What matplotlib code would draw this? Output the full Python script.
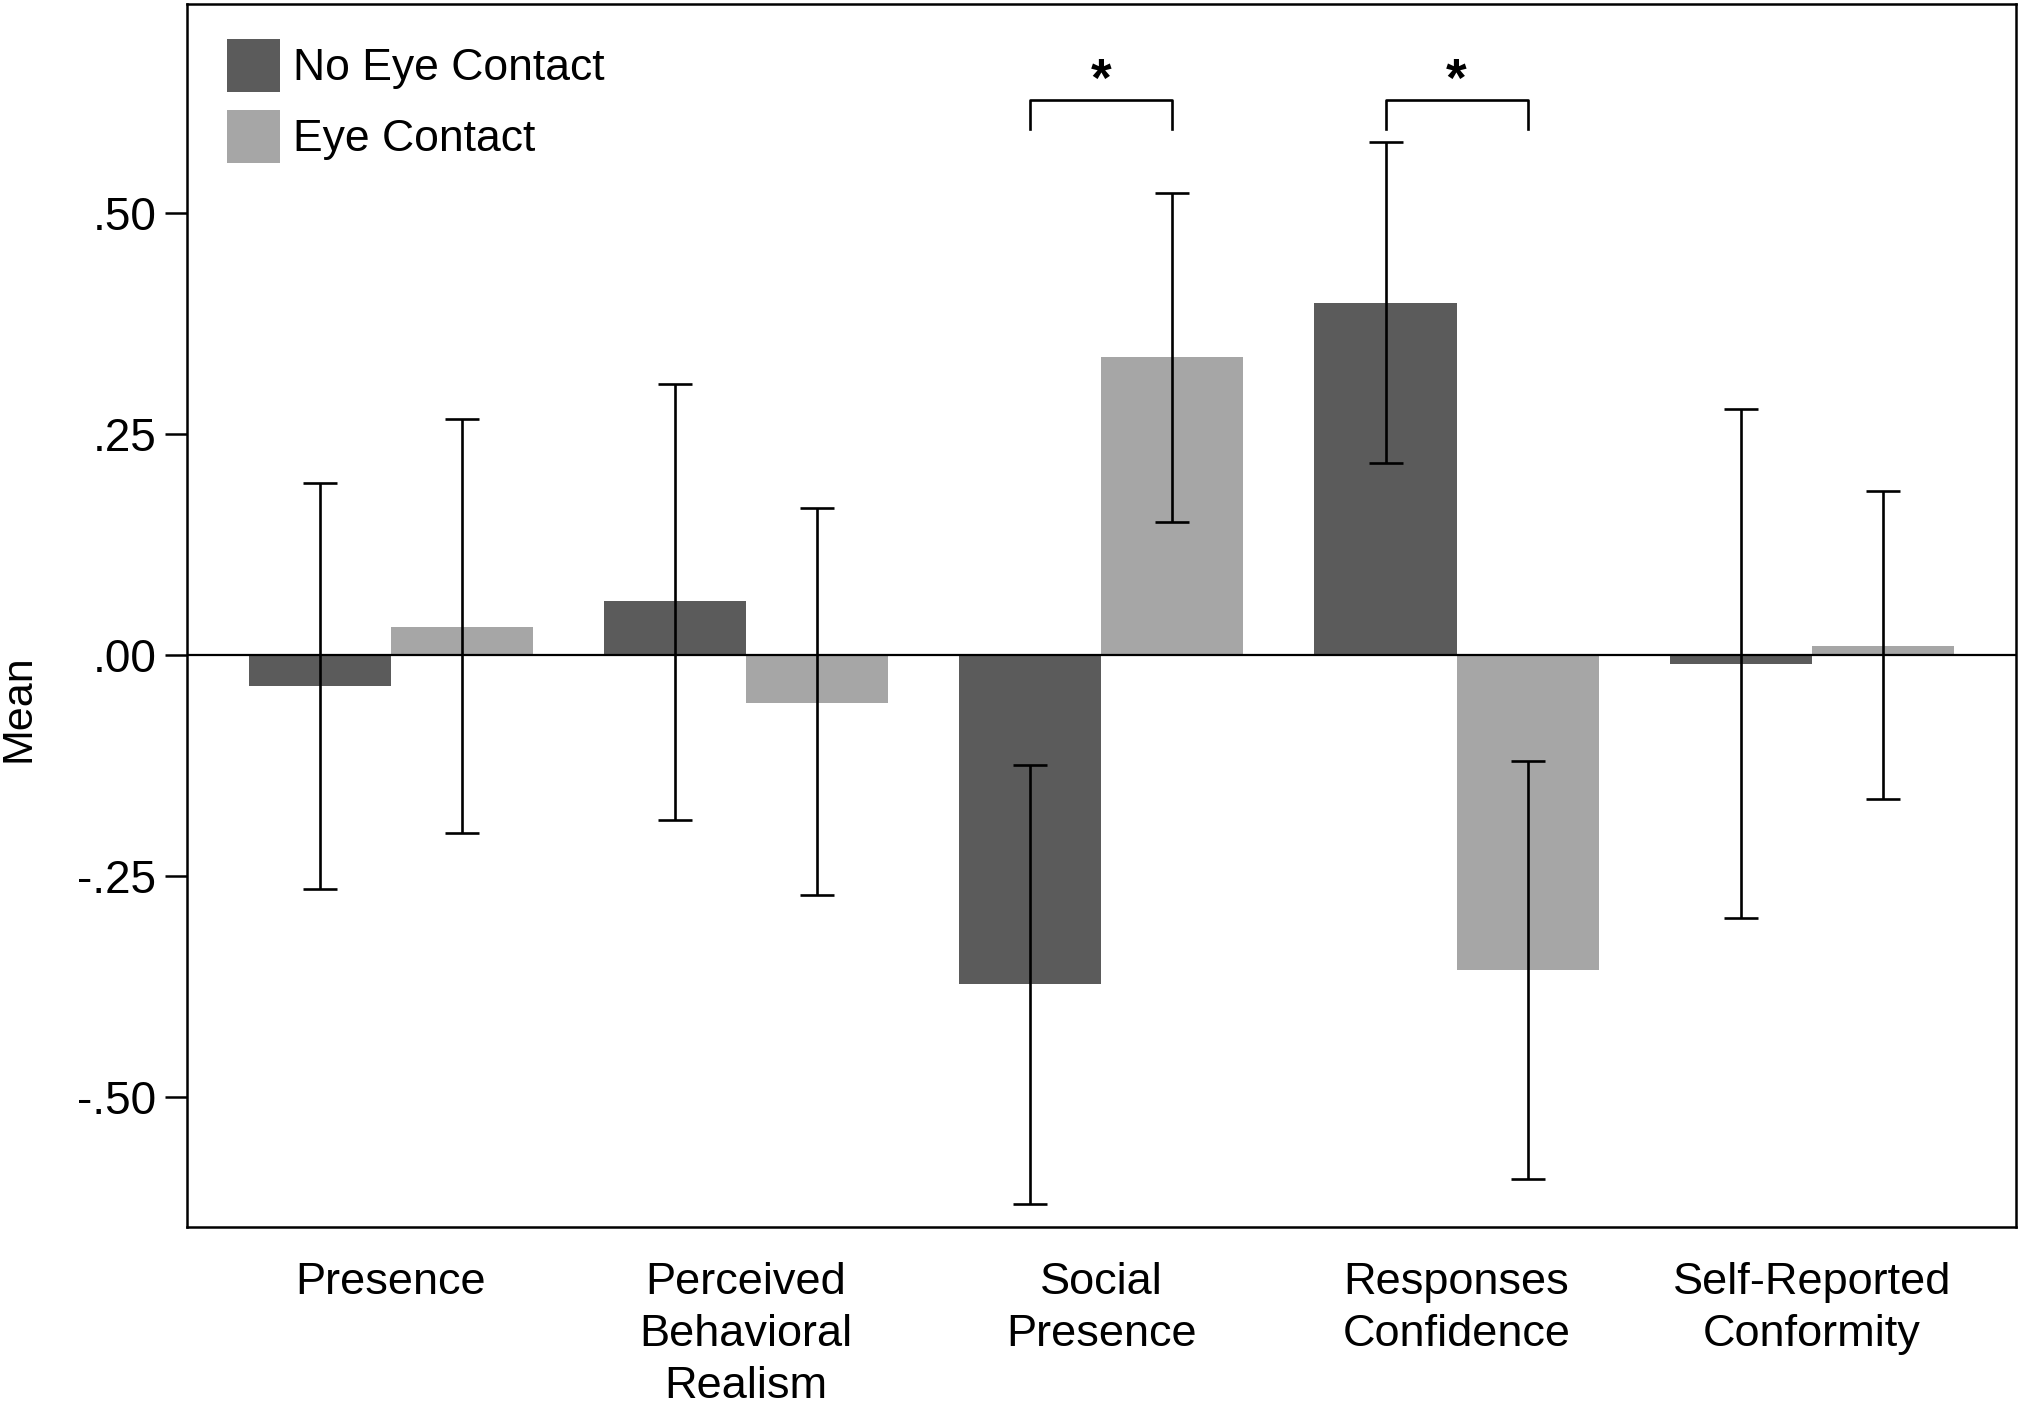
import matplotlib.pyplot as plt
import numpy as np

plt.rcParams['font.family'] = ['Liberation Sans', 'DejaVu Sans']

categories = ["Presence", "Perceived\nBehavioral\nRealism", "Social\nPresence",
              "Responses\nConfidence", "Self-Reported\nConformity"]
series = ["No Eye Contact", "Eye Contact"]

no_eye_mean = [-0.035, 0.061, -0.372, 0.398, -0.010]
no_eye_low = [-0.265, -0.187, -0.621, 0.217, -0.297]
no_eye_high = [0.195, 0.306, -0.124, 0.580, 0.278]

eye_mean = [0.032, -0.054, 0.337, -0.356, 0.010]
eye_low = [-0.201, -0.271, 0.150, -0.593, -0.163]
eye_high = [0.267, 0.166, 0.523, -0.120, 0.185]

significant = [2, 3]  # groups with a * bracket
yticks = [-0.50, -0.25, 0.00, 0.25, 0.50]
ytick_labels = ["-.50", "-.25", ".00", ".25", ".50"]

colors = ["#5b5b5b", "#a6a6a6"]

fig = plt.figure(figsize=(20.22, 14.05), dpi=100)
ax = fig.add_axes([0.0925, 0.1266, 0.9043, 0.8704])

x = np.arange(len(categories))
w = 0.4
means = [no_eye_mean, eye_mean]
lows = [no_eye_low, eye_low]
highs = [no_eye_high, eye_high]
for k in range(2):
    xs = x + (k - 0.5) * w
    m = np.array(means[k])
    lo = np.array(lows[k])
    hi = np.array(highs[k])
    ax.bar(xs, m, width=w, color=colors[k], label=series[k], zorder=2)
    ax.errorbar(xs, m, yerr=[m - lo, hi - m], fmt='none', ecolor='black',
                elinewidth=1.9, capsize=12, capthick=1.9, zorder=3)

ax.axhline(0, color='black', lw=1.6, zorder=4)

# significance brackets
br_top = 0.628
br_leg = 0.033
for g in significant:
    x0 = g - 0.5 * w
    x1 = g + 0.5 * w
    ax.plot([x0, x0, x1, x1], [br_top - br_leg, br_top, br_top, br_top - br_leg],
            color='black', lw=1.9, clip_on=False)
    ax.text(g, br_top - 0.008, "*", ha='center', va='bottom', fontsize=38,
            fontweight='bold')

ax.set_xlim(-0.573, 4.573)
ax.set_ylim(-0.647, 0.736)
ax.set_yticks(yticks)
ax.set_yticklabels(ytick_labels)
ax.set_xticks(x)
ax.set_xticklabels(categories, linespacing=1.35)
ax.tick_params(axis='y', labelsize=33, length=16, width=1.8, pad=6)
ax.tick_params(axis='x', labelsize=32.5, length=0, pad=25)
for s in ax.spines.values():
    s.set_linewidth(1.8)

ax.set_ylabel("Mean", fontsize=31)
ax.yaxis.set_label_coords(-0.081, 0.424)

ax.legend(loc='upper left', bbox_to_anchor=(0.022, 0.9715), frameon=False,
          fontsize=32, borderpad=0, borderaxespad=0, handlelength=1.19,
          handleheight=1.46, handletextpad=0.3, labelspacing=0.4)

fig.savefig("out.png", dpi=100)
